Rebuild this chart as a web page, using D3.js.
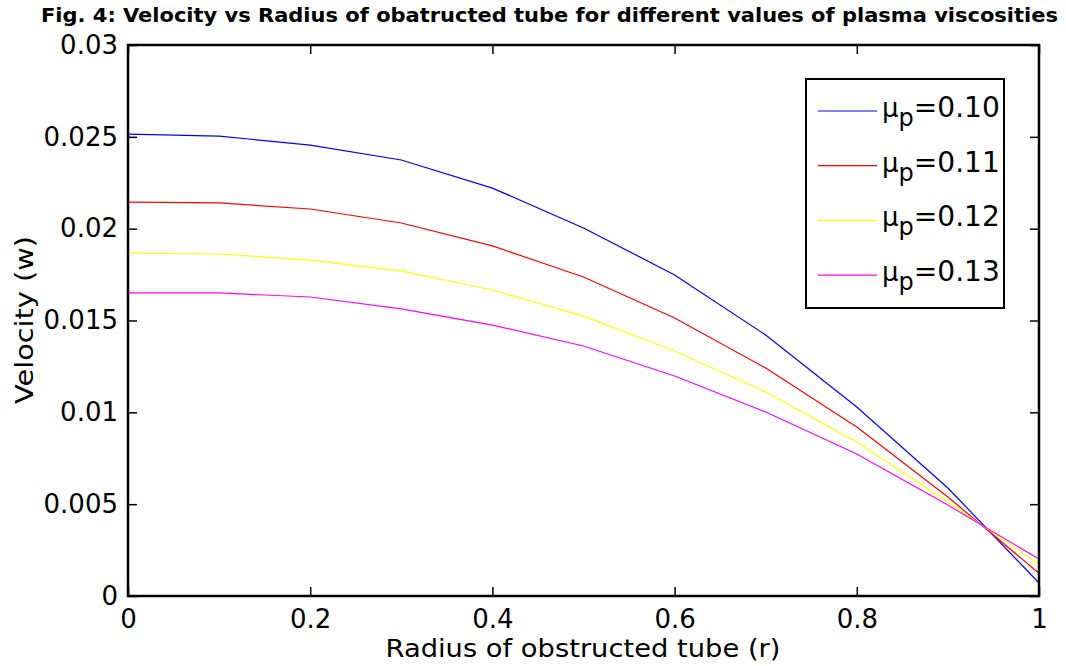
<!DOCTYPE html>
<html>
<head>
<meta charset="utf-8">
<script src="https://cdn.jsdelivr.net/npm/d3@7"></script>
<style>
  body { margin: 0; background: #fff; }
  svg text { font-family: "DejaVu Sans", sans-serif; fill: #000; }
</style>
</head>
<body>
<svg id="chart" width="1066" height="666"></svg>
<script>
// radius samples (r)
var radius = [0, 0.1, 0.2, 0.3, 0.4, 0.5, 0.6, 0.7, 0.8, 0.9, 1.0];

// velocity for each plasma viscosity
var mu010 = [0.02515, 0.02504, 0.02455, 0.02374, 0.02221, 0.02004, 0.01748, 0.01421, 0.01029, 0.00588, 0.00071];
var mu011 = [0.02145, 0.02140, 0.02107, 0.02031, 0.01906, 0.01737, 0.01514, 0.01241, 0.00920, 0.00539, 0.00124];
var mu012 = [0.01867, 0.01862, 0.01829, 0.01770, 0.01666, 0.01524, 0.01334, 0.01111, 0.00838, 0.00512, 0.00173];
var mu013 = [0.01650, 0.01650, 0.01628, 0.01563, 0.01475, 0.01361, 0.01198, 0.01002, 0.00773, 0.00495, 0.00201];

var seriesNames = ["0.10", "0.11", "0.12", "0.13"];
var seriesColors = ["#0000ff", "#ff0000", "#ffff00", "#ff00ff"];

var xTicks = [0, 0.2, 0.4, 0.6, 0.8, 1];
var yTicks = [0, 0.005, 0.01, 0.015, 0.02, 0.025, 0.03];

/* ===================================
 *  SETUP
 * =================================== */
var svg = d3.select("#chart");
var plotL = 128, plotR = 1039, plotT = 45, plotB = 596;

var x = d3.scaleLinear().domain([0, 1]).range([plotL, plotR]);
var y = d3.scaleLinear().domain([0, 0.03]).range([plotB, plotT]);

var series = [mu010, mu011, mu012, mu013].map(function (vals, i) {
  return { name: seriesNames[i], color: seriesColors[i], values: vals };
});

/* ===================================
 *  LINES
 * =================================== */
var line = d3.line()
  .x(function (d, i) { return x(radius[i]); })
  .y(function (d) { return y(d); });

svg.append("g").selectAll("path")
  .data(series)
  .enter().append("path")
  .attr("d", function (s) { return line(s.values); })
  .attr("fill", "none")
  .attr("stroke", function (s) { return s.color; })
  .attr("stroke-width", 1.2);

/* ===================================
 *  AXES (matlab style box, inward ticks)
 * =================================== */
var tick = 9;
var fontSize = 26;

svg.append("g")
  .attr("transform", "translate(0," + plotB + ")")
  .call(d3.axisBottom(x).tickValues(xTicks).tickSize(-tick).tickPadding(14).tickFormat(d3.format("~g")))
  .call(function (g) {
    g.select(".domain").remove();
    g.selectAll("text").style("font-size", fontSize + "px").attr("dy", "0.71em");
  });

svg.append("g")
  .attr("transform", "translate(0," + plotT + ")")
  .call(d3.axisTop(x).tickValues(xTicks).tickSize(-tick).tickFormat(""))
  .call(function (g) { g.select(".domain").remove(); });

svg.append("g")
  .attr("transform", "translate(" + plotL + ",0)")
  .call(d3.axisLeft(y).tickValues(yTicks).tickSize(-tick).tickPadding(10).tickFormat(d3.format("~g")))
  .call(function (g) {
    g.select(".domain").remove();
    g.selectAll("text").style("font-size", fontSize + "px");
  });

svg.append("g")
  .attr("transform", "translate(" + plotR + ",0)")
  .call(d3.axisRight(y).tickValues(yTicks).tickSize(-tick).tickFormat(""))
  .call(function (g) { g.select(".domain").remove(); });

svg.selectAll(".tick line").attr("stroke", "#000").attr("stroke-width", 1.5);

svg.append("rect")
  .attr("x", plotL).attr("y", plotT)
  .attr("width", plotR - plotL).attr("height", plotB - plotT)
  .attr("fill", "none").attr("stroke", "#000").attr("stroke-width", 2.5);

/* ===================================
 *  LABELS
 * =================================== */
svg.append("text")
  .attr("x", 41).attr("y", 22)
  .attr("textLength", 1017).attr("lengthAdjust", "spacingAndGlyphs")
  .style("font-family", "'DejaVu Sans Condensed', 'DejaVu Sans', sans-serif")
  .style("font-size", "19px").style("font-weight", "bold")
  .text("Fig. 4: Velocity vs Radius of obatructed tube for different values of plasma viscosities");

svg.append("text")
  .attr("x", 583).attr("y", 657)
  .attr("text-anchor", "middle")
  .attr("textLength", 395).attr("lengthAdjust", "spacingAndGlyphs")
  .style("font-size", "25px")
  .text("Radius of obstructed tube (r)");

svg.append("text")
  .attr("transform", "translate(33,320) rotate(-90)")
  .attr("text-anchor", "middle")
  .attr("textLength", 168).attr("lengthAdjust", "spacingAndGlyphs")
  .style("font-size", "25px")
  .text("Velocity (w)");

/* ===================================
 *  LEGEND
 * =================================== */
var legend = svg.append("g");
legend.append("rect")
  .attr("x", 806).attr("y", 79)
  .attr("width", 198).attr("height", 229)
  .attr("fill", "#fff").attr("stroke", "#000").attr("stroke-width", 2);

var item = legend.selectAll("g.item")
  .data(series)
  .enter().append("g")
  .attr("class", "item")
  .attr("transform", function (s, i) { return "translate(0," + (111 + i * 54.7) + ")"; });

item.append("line")
  .attr("x1", 818).attr("x2", 877)
  .attr("stroke", function (s) { return s.color; })
  .attr("stroke-width", 1.2);

var label = item.append("text")
  .attr("x", 882).attr("y", 6)
  .style("font-size", "26px");
label.append("tspan").text("\u03bc");
label.append("tspan").attr("dy", 9).style("font-size", "24px").text("p");
label.append("tspan").attr("dy", -9).style("font-size", "29px")
  .attr("textLength", 86).attr("lengthAdjust", "spacingAndGlyphs")
  .text(function (s) { return "=" + s.name; });
</script>
</body>
</html>
